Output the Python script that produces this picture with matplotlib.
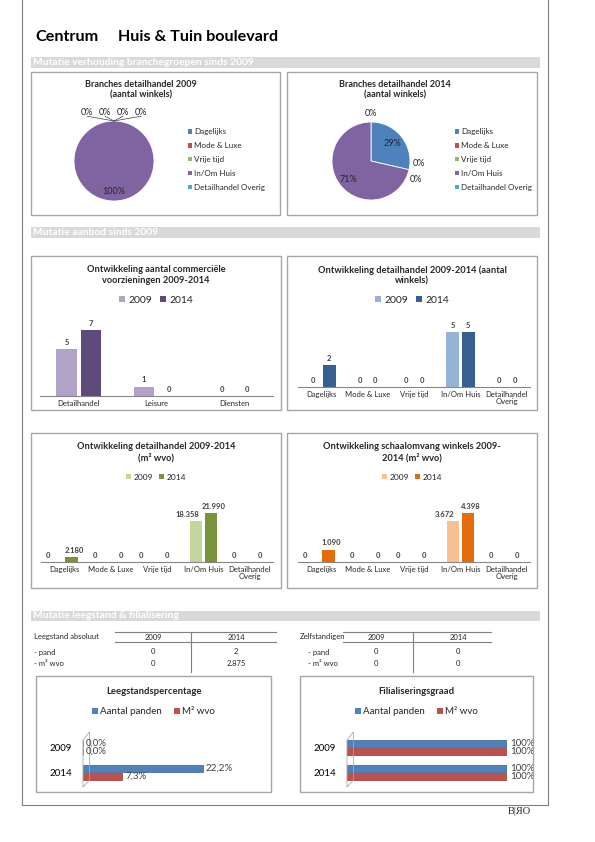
import numpy as np
import matplotlib.pyplot as plt
from matplotlib.patches import Rectangle, Patch, Polygon
from matplotlib.lines import Line2D

plt.rcParams['font.family'] = ['Lato', 'DejaVu Sans']
plt.rcParams['text.color'] = '#262626'

# data
branches = ['Dagelijks', 'Mode & Luxe', 'Vrije tijd', 'In/Om Huis', 'Detailhandel Overig']
branch_colors = ['#4F81BD', '#C0504D', '#9BBB59', '#8064A2', '#4BACC6']
winkels_2009 = [0, 0, 0, 5, 0]
winkels_2014 = [2, 0, 0, 5, 0]

voorz_cats = ['Detailhandel', 'Leisure', 'Diensten']
voorz_2009 = [5, 1, 0]
voorz_2014 = [7, 0, 0]

branch_ticks = ['Dagelijks', 'Mode & Luxe', 'Vrije tijd', 'In/Om Huis', 'Detailhandel\nOverig']
aantal_2009 = [0, 0, 0, 5, 0]
aantal_2014 = [2, 0, 0, 5, 0]
wvo_2009 = [0, 0, 0, 18358, 0]
wvo_2014 = [2180, 0, 0, 21990, 0]
schaal_2009 = [0, 0, 0, 3672, 0]
schaal_2014 = [1090, 0, 0, 4398, 0]

years = ['2009', '2014']
leeg_panden = [0.0, 22.2]
leeg_m2 = [0.0, 7.3]
filiaal_panden = [100, 100]
filiaal_m2 = [100, 100]

table_rows = ['- pand', '- m² wvo']
leeg_abs_2009 = ['0', '0']
leeg_abs_2014 = ['2', '2.875']
zelf_2009 = ['0', '0']
zelf_2014 = ['0', '0']

W, H = 595, 842
fig = plt.figure(figsize=(W / 100, H / 100), dpi=100)


def fx(x):
    return x / W


def fy(y):
    return 1 - y / H


def rect(x0, y0, x1, y1):
    return [x0 / W, 1 - y1 / H, (x1 - x0) / W, (y1 - y0) / H]


def box(x0, y0, x1, y1, color='#A6A6A6'):
    fig.patches.append(Rectangle((fx(x0), fy(y1)), (x1 - x0) / W, (y1 - y0) / H,
                                 transform=fig.transFigure, fill=False,
                                 edgecolor=color, linewidth=1.0))


def section(y0, y1, text):
    fig.patches.append(Rectangle((fx(31), fy(y1)), (540 - 31) / W, (y1 - y0) / H,
                                 transform=fig.transFigure, facecolor='#D9D9D9',
                                 edgecolor='none'))
    fig.text(fx(33), fy((y0 + y1) / 2), text, color='white', fontsize=7.4,
             fontweight='bold', va='center', ha='left')


def fline(x0, y0, x1, y1, color='#7F7F7F', lw=0.8):
    fig.lines.append(Line2D([fx(x0), fx(x1)], [fy(y0), fy(y1)],
                            transform=fig.transFigure, color=color, linewidth=lw))


def nl(v):
    return f'{v:,}'.replace(',', '.')


# page frame
fline(22, 0, 22, 805)
fline(548, 0, 548, 805)
fline(22, 805, 548, 805)
fig.text(fx(519), fy(812), 'B|ЯO', fontsize=7.5, family='Liberation Serif',
         ha='center', va='center', color='#262626')

fig.text(fx(35), fy(37), 'Centrum', fontsize=11.6, fontweight='bold', va='center', color='black')
fig.text(fx(118), fy(37), 'Huis & Tuin boulevard', fontsize=11.6, fontweight='bold',
         va='center', color='black')

section(57, 68, 'Mutatie verhouding branchegroepen sinds 2009')
section(227, 238, 'Mutatie aanbod sinds 2009')
section(611, 621, 'Mutatie leegstand & filialisering')


# pies
def draw_pie(ax_px, values, title, title_x, legend_x):
    ax = fig.add_axes(rect(*ax_px))
    total = sum(values)
    wedges, _ = ax.pie(values, colors=branch_colors, startangle=90, counterclock=False,
                       wedgeprops=dict(edgecolor='white', linewidth=0.6))
    for w, v in zip(wedges, values):
        if v == 0:
            w.set_linewidth(0)
    ax.set_xlim(-1, 1)
    ax.set_ylim(-1, 1)
    ax.set_aspect('equal')
    ax.axis('off')
    theta = 90.0
    groups = {}
    for i, v in enumerate(values):
        span = 360.0 * v / total
        if v > 0:
            mid = np.deg2rad(theta - span / 2)
            r = 0.7 if v / total < 0.5 else 0.75
            ax.text(r * np.cos(mid), r * np.sin(mid), f'{100 * v / total:.0f}%',
                    ha='center', va='center', fontsize=6.5)
        else:
            groups.setdefault(round(theta % 360, 3), []).append(i)
        theta -= span
    for ang, idxs in groups.items():
        a = np.deg2rad(ang)
        base = 1.22 * np.array([np.cos(a), np.sin(a)])
        tang = np.array([np.sin(a), -np.cos(a)])
        n = len(idxs)
        for k, i in enumerate(idxs):
            s = (k - (n - 1) / 2) * (0.45 if n > 2 else 0.4)
            p = base + s * tang
            ax.text(p[0], p[1], '0%', ha='center', va='center', fontsize=6.5)
            if n > 2:
                ax.plot([np.cos(a), p[0]], [np.sin(a), p[1] - 0.1], color='#404040',
                        linewidth=0.5, clip_on=False)
    fig.text(fx(title_x), fy(90), title, ha='center', va='center', fontsize=6.5,
             fontweight='bold', linespacing=1.25)
    handles = [Patch(facecolor=c) for c in branch_colors]
    ax.legend(handles, branches, loc='center left', bbox_to_anchor=(fx(legend_x), fy(159.5)),
              bbox_transform=fig.transFigure, frameon=False, fontsize=5.8,
              handlelength=0.5, handleheight=0.5, handletextpad=0.25,
              labelspacing=0.85, borderpad=0, borderaxespad=0)


box(31, 72, 280, 215)
box(287, 72, 537, 215)
draw_pie((74, 121, 154, 201), winkels_2009, 'Branches detailhandel 2009\n(aantal winkels)', 141, 188)
draw_pie((332, 122, 410, 200), winkels_2014, 'Branches detailhandel 2014\n(aantal winkels)', 395, 455)


# grouped bars
def bar_chart(ax_px, cats, v09, v14, c09, c14, px_unit, width, off,
              title, title_pos, legend_y, leg_fs, tick_fs, dx=(0, 0)):
    ax = fig.add_axes(rect(*ax_px))
    x = np.arange(len(cats))
    ax.bar(x - off, v09, width, color=c09)
    ax.bar(x + off, v14, width, color=c14)
    ax.set_xlim(-0.5, len(cats) - 0.5)
    ax.set_ylim(0, (ax_px[3] - ax_px[1]) / px_unit)
    for s in ['top', 'left', 'right']:
        ax.spines[s].set_visible(False)
    ax.spines['bottom'].set_color('#868686')
    ax.spines['bottom'].set_linewidth(0.8)
    ax.set_yticks([])
    ax.set_xticks(x, cats, fontsize=tick_fs, linespacing=1.0)
    ax.tick_params(axis='x', length=0, pad=3, colors='#262626')
    for xs, vals, d in ((x - off, v09, dx[0]), (x + off, v14, dx[1])):
        for xi, v in zip(xs, vals):
            ax.annotate(nl(v), (xi, v), xytext=(d, 2.5), textcoords='offset points',
                        ha='center', va='bottom', fontsize=5.5, fontweight='bold',
                        color='#404040')
    fig.text(fx(title_pos[0]), fy(title_pos[1]), title, ha='center', va='center',
             fontsize=6.7, fontweight='bold', linespacing=1.2)
    handles = [Patch(facecolor=c09), Patch(facecolor=c14)]
    ax.legend(handles, ['2009', '2014'], loc='center',
              bbox_to_anchor=(fx(title_pos[0]), fy(legend_y)), bbox_transform=fig.transFigure,
              ncol=2, frameon=False, fontsize=leg_fs, handlelength=0.6, handleheight=0.6,
              handletextpad=0.25, columnspacing=0.8, borderpad=0, borderaxespad=0)


box(31, 256, 281, 410)
box(287, 256, 537, 410)
box(31, 433, 281, 588)
box(287, 433, 537, 588)

bar_chart((40, 310, 273, 396), voorz_cats, voorz_2009, voorz_2014, '#B3A2C7', '#604A7B',
          9.4, 0.26, 0.16, 'Ontwikkeling aantal commerciële\nvoorzieningen 2009-2014',
          (156, 275), 300, 7.5, 5.5)
bar_chart((298, 310, 530, 387), branch_ticks, aantal_2009, aantal_2014, '#95B3D7', '#376092',
          11.0, 0.28, 0.17, 'Ontwikkeling detailhandel 2009-2014 (aantal\nwinkels)',
          (412, 275), 300, 7.5, 5.5)
bar_chart((41, 485, 273, 562), branch_ticks, wvo_2009, wvo_2014, '#C3D69B', '#77933C',
          49 / 21990, 0.27, 0.16, 'Ontwikkeling detailhandel 2009-2014\n(m² wvo)',
          (156, 452), 477, 6, 5.5, dx=(-6, 2))
bar_chart((298, 485, 530, 562), branch_ticks, schaal_2009, schaal_2014, '#FAC090', '#E46C0A',
          49 / 4398, 0.27, 0.16, 'Ontwikkeling schaalomvang winkels 2009-\n2014 (m² wvo)',
          (412, 452), 477, 6, 5.5, dx=(-6, 2))


# tables
def table(label_x, x_lines, col_x, vline_x, title, c09, c14, row_x):
    fs = 5.5
    fig.text(fx(label_x), fy(637), title, fontsize=fs, va='center')
    fline(x_lines[0], 632, x_lines[1], 632)
    fline(x_lines[0], 642, x_lines[1], 642)
    fline(vline_x, 632, vline_x, 672)
    fig.text(fx(col_x[0]), fy(637), '2009', fontsize=fs, ha='center', va='center')
    fig.text(fx(col_x[1]), fy(637), '2014', fontsize=fs, ha='center', va='center')
    for ry, name, a, b in zip([652, 663], table_rows, c09, c14):
        fig.text(fx(row_x), fy(ry), name, fontsize=fs, va='center')
        fig.text(fx(col_x[0]), fy(ry), a, fontsize=fs, ha='center', va='center')
        fig.text(fx(col_x[1]), fy(ry), b, fontsize=fs, ha='center', va='center')


table(34, (115, 276), (153, 236), 191, 'Leegstand absoluut', leeg_abs_2009, leeg_abs_2014, 34)
table(300, (343, 491), (376, 458), 413, 'Zelfstandigen', zelf_2009, zelf_2014, 308)


# horizontal bars
def hbar_chart(box_px, ax_px, xmax, blue, red, fmt, title):
    box(*box_px, color='#A6A6A6')
    cx = (box_px[0] + box_px[2]) / 2
    ax = fig.add_axes(rect(*ax_px))
    y = np.arange(len(years))[::-1]
    h = 0.3
    ax.barh(y + 0.16, blue, h, color='#4F81BD', edgecolor='#385D8A', linewidth=0.5)
    ax.barh(y - 0.16, red, h, color='#C0504D', edgecolor='#8C3836', linewidth=0.5)
    for yi, v in zip(y, blue):
        ax.annotate(fmt(v), (v, yi + 0.16), xytext=(2, 0), textcoords='offset points',
                    va='center', ha='left', fontsize=7, color='#404040')
    for yi, v in zip(y, red):
        ax.annotate(fmt(v), (v, yi - 0.16), xytext=(2, 0), textcoords='offset points',
                    va='center', ha='left', fontsize=7, color='#404040')
    ax.set_xlim(0, xmax)
    ax.set_ylim(-0.5, 1.5)
    ax.set_yticks(y, years, fontsize=7)
    ax.tick_params(axis='y', length=0, pad=8)
    ax.set_xticks([])
    for s in ax.spines.values():
        s.set_visible(False)
    ax.add_patch(Polygon([(0, -0.04), (0, 0.9), (0.04, 1.06), (0.04, 0.1)], closed=True,
                         transform=ax.transAxes, fill=False, edgecolor='#A6A6A6',
                         linewidth=0.6, clip_on=False))
    fig.text(fx(cx), fy(691), title, ha='center', va='center', fontsize=6.8, fontweight='bold')
    handles = [Patch(facecolor='#4F81BD'), Patch(facecolor='#C0504D')]
    ax.legend(handles, ['Aantal panden', 'M² wvo'], loc='center',
              bbox_to_anchor=(fx(cx), fy(712)), bbox_transform=fig.transFigure,
              ncol=2, frameon=False, fontsize=7, handlelength=0.6, handleheight=0.6,
              handletextpad=0.25, columnspacing=1.2, borderpad=0, borderaxespad=0)


hbar_chart((36, 676, 271, 792), (83, 735, 245, 785), 30, leeg_panden, leeg_m2,
           lambda v: f'{v:.1f}%'.replace('.', ','), 'Leegstandspercentage')
hbar_chart((300, 676, 533, 792), (347, 735, 507, 785), 100, filiaal_panden, filiaal_m2,
           lambda v: f'{v:.0f}%', 'Filialiseringsgraad')

plt.savefig('out.png', dpi=100)
